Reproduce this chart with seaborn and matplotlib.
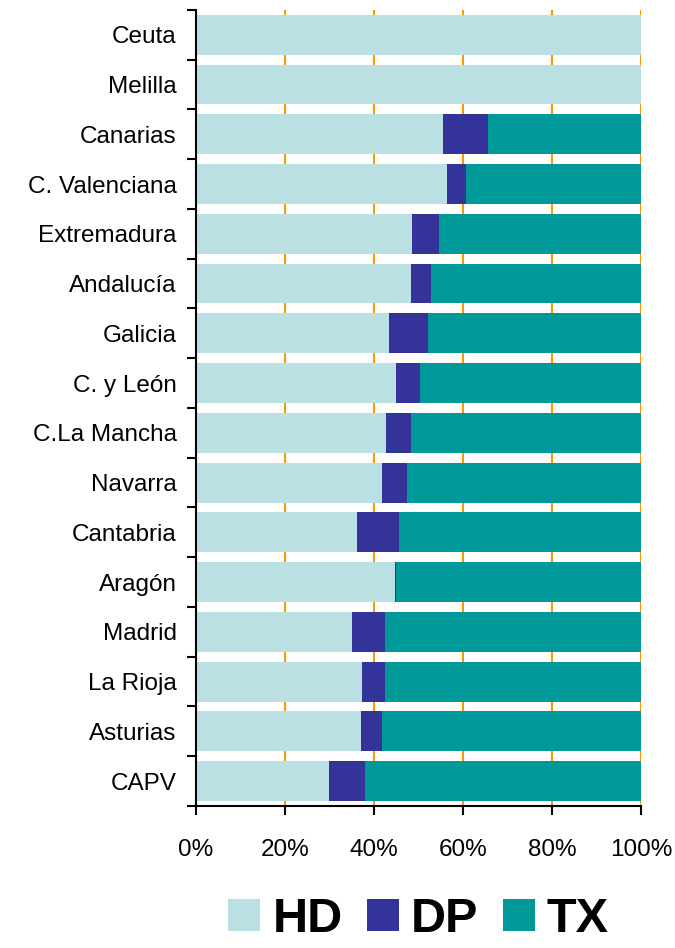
import numpy as np
import pandas as pd
import seaborn as sns
import matplotlib.pyplot as plt

# Data (percent share of each modality per region)
regions = ['Ceuta', 'Melilla', 'Canarias', 'C. Valenciana', 'Extremadura', 'Andalucía',
           'Galicia', 'C. y León', 'C.La Mancha', 'Navarra', 'Cantabria', 'Aragón',
           'Madrid', 'La Rioja', 'Asturias', 'CAPV']
hd = [100, 100, 55.4, 56.3, 48.6, 48.2, 43.3, 45.0, 42.8, 41.9, 36.1, 44.6, 35.1, 37.4, 37.0, 29.8]
dp = [0, 0, 10.3, 4.4, 5.9, 4.5, 8.9, 5.4, 5.4, 5.4, 9.4, 0.4, 7.3, 5.0, 4.9, 8.1]
tx = [0, 0, 34.3, 39.3, 45.5, 47.3, 47.8, 49.6, 51.8, 52.7, 54.5, 55.0, 57.6, 57.6, 58.1, 62.1]
x_ticks = [0, 20, 40, 60, 80, 100]
x_labels = ['0%', '20%', '40%', '60%', '80%', '100%']

colors = {'HD': '#BBE0E3', 'DP': '#333399', 'TX': '#009999'}

sns.set_style('ticks')
plt.rcParams['font.family'] = ['Liberation Sans', 'DejaVu Sans']
plt.rcParams['text.color'] = 'black'
plt.rcParams['xtick.color'] = 'black'
plt.rcParams['ytick.color'] = 'black'
plt.rcParams['axes.edgecolor'] = 'black'

df = pd.DataFrame({'region': regions, 'HD': hd, 'DP': dp, 'TX': tx})
df['HD+DP'] = df['HD'] + df['DP']
df['total'] = df['HD+DP'] + df['TX']

fig = plt.figure(figsize=(6.75, 9.48), dpi=100)
ax = fig.add_axes([0.2904, 0.1498, 0.6593, 0.8397])

# stacked bars: draw cumulative totals back to front
sns.barplot(data=df, y='region', x='total', color=colors['TX'], saturation=1,
            width=0.8, orient='h', label='TX', linewidth=0, ax=ax)
sns.barplot(data=df, y='region', x='HD+DP', color=colors['DP'], saturation=1,
            width=0.8, orient='h', label='DP', linewidth=0, ax=ax)
sns.barplot(data=df, y='region', x='HD', color=colors['HD'], saturation=1,
            width=0.8, orient='h', label='HD', linewidth=0, ax=ax)

handles, labels = ax.get_legend_handles_labels()
if ax.get_legend() is not None:
    ax.get_legend().remove()

ax.set_xlim(0, 100)
ax.set_ylim(len(regions) - 0.5, -0.5)
ax.set_xticks(x_ticks)
ax.set_xticklabels(x_labels)
ax.set_xlabel('')
ax.set_ylabel('')

# y ticks sit between the bars, labels at bar centres
ax.set_yticks(np.arange(-0.5, len(regions), 1))
ax.set_yticklabels([])
ax.set_yticks(np.arange(len(regions)), minor=True)
ax.set_yticklabels(regions, minor=True)
ax.tick_params(axis='y', which='major', length=6.5, width=1.5, direction='out')
ax.tick_params(axis='y', which='minor', length=0, pad=14, labelsize=17.5)
ax.tick_params(axis='x', length=6.5, width=1.5, pad=17, labelsize=17.5)

ax.set_axisbelow(True)
ax.xaxis.grid(True, color='#FF9900', linewidth=1.5)
ax.yaxis.grid(False)
sns.despine(ax=ax)
ax.spines['left'].set_linewidth(1.5)
ax.spines['bottom'].set_linewidth(1.5)

order = [labels.index(k) for k in ['HD', 'DP', 'TX']]
fig.legend([handles[i] for i in order], [labels[i] for i in order],
           loc='center', bbox_to_anchor=(0.62, 0.03), ncol=3, frameon=False,
           prop={'weight': 'bold', 'size': 35},
           handlelength=0.66, handleheight=0.66, handletextpad=0.25,
           columnspacing=0.5, borderpad=0, borderaxespad=0)

fig.savefig('out.png', dpi=100)
